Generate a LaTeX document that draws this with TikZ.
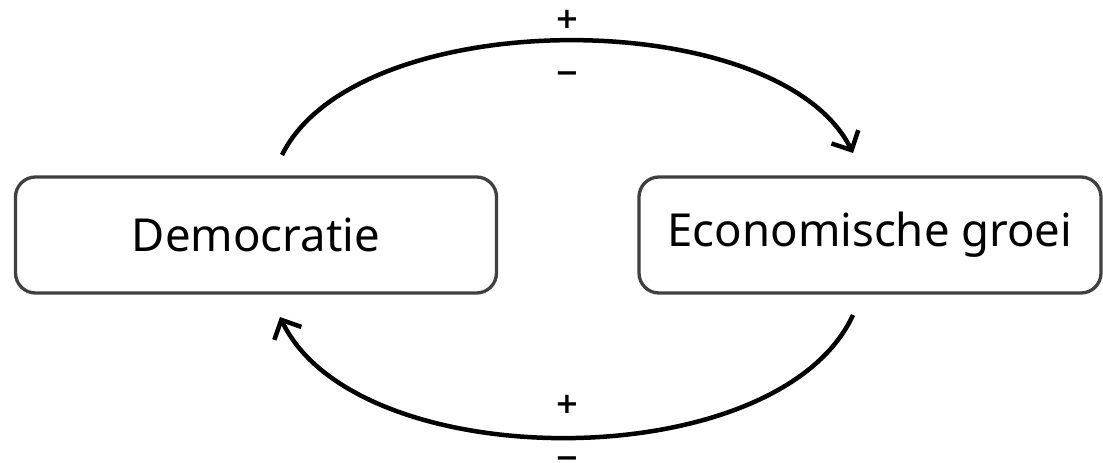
\documentclass[tikz,border=0pt]{standalone}
\usepackage{fontspec}
\setmainfont{Noto Sans}
\newfontfamily\signfont{DejaVu Sans Bold}
\usepackage{tikz}
\usetikzlibrary{arrows.meta,positioning}
\definecolor{BoxGrey}{RGB}{64,64,64}

\begin{document}
\begin{tikzpicture}[x=1pt,y=-1pt,
  factor/.style={draw=BoxGrey,line width=3.3pt,rounded corners=20pt,minimum height=116pt,inner sep=0pt,font=\fontsize{45.5}{52}\selectfont},
  loop/.style={line width=4.5pt,-{Straight Barb[length=15pt,width=30pt]}},
  sign/.style={inner sep=0pt,anchor=base,font=\fontsize{29}{32}\signfont}]
\useasboundingbox (0,0) rectangle (1103,463);
\node[factor,minimum width=481pt] (dem) at (256,235) {Democratie};
\node[factor,minimum width=462pt] (eco) at (870,235) {Economische groei};
% begin en eind van de bogen
\coordinate (demtop) at (282,155);
\coordinate (ecotop) at (853,153);
\coordinate (ecobot) at (853,315);
\coordinate (dembot) at (280,317);
\draw[loop] (demtop) .. controls (357,3) and (778,3) .. (ecotop);
\draw[loop] (ecobot) .. controls (778,478) and (357,478) .. (dembot);
\node[sign] (topplus) at (567,28) {+};
\node[sign] (topmin) at (567,82) {−};
\node[sign] (botplus) at (567,413) {+};
\node[sign] (botmin) at (567,467) {−};
\end{tikzpicture}
\end{document}
